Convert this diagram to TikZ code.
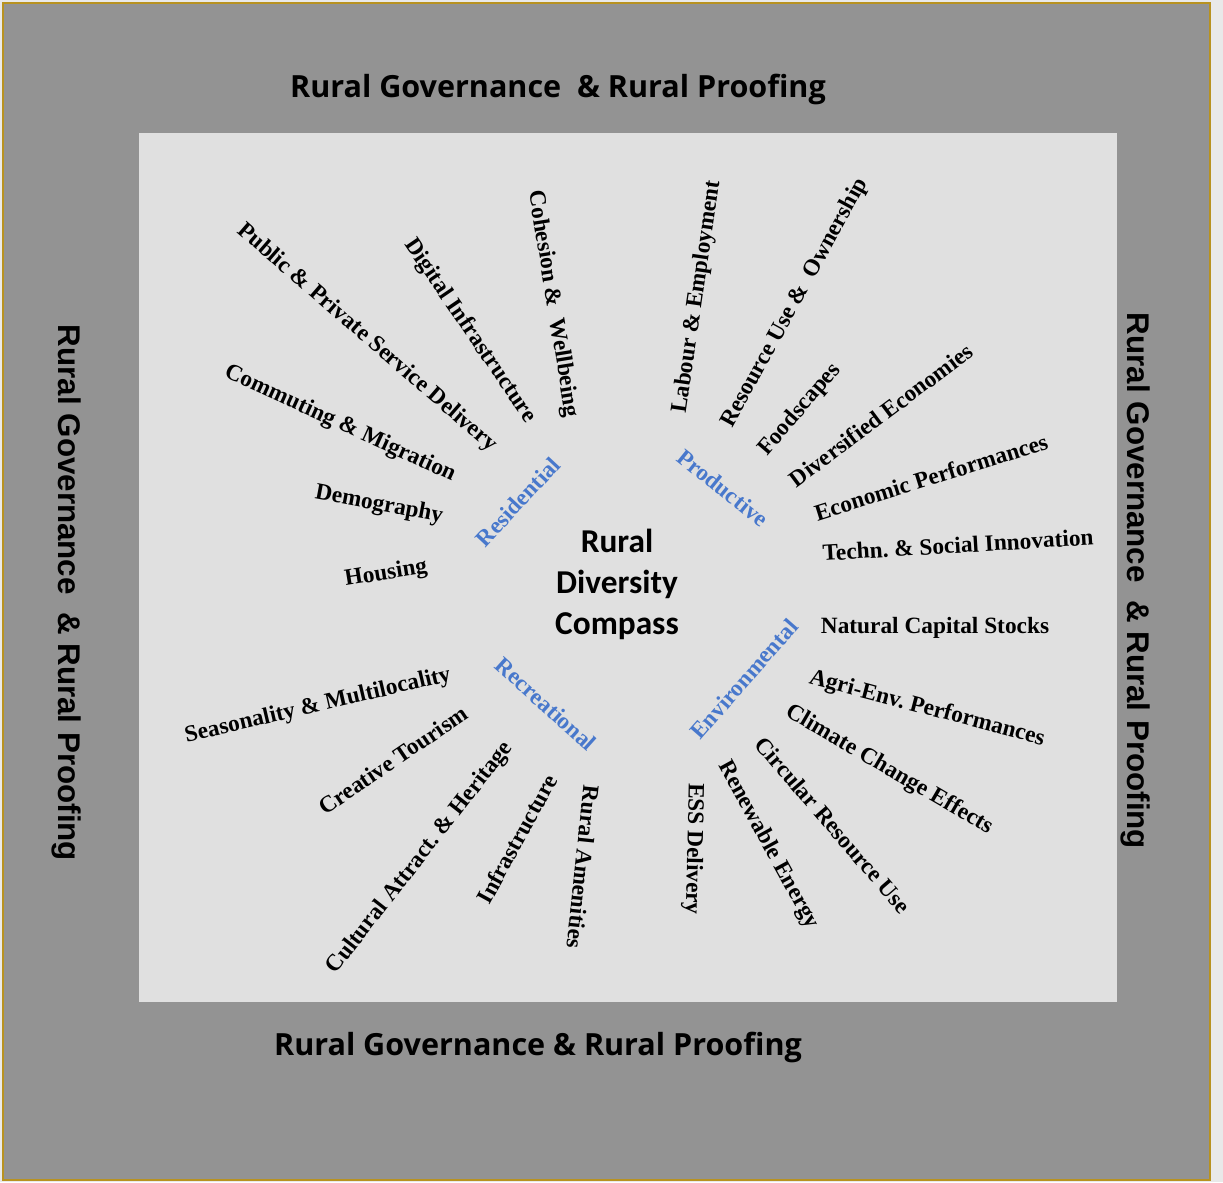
\documentclass[tikz,border=0pt]{standalone}
\usepackage{fontspec}
\setmainfont{Liberation Serif}
\newfontfamily\sidefont{Liberation Sans}
\newfontfamily\bandfont{Open Sans}
\newfontfamily\hubfont{Carlito}
\definecolor{framegold}{RGB}{184,146,32}
\definecolor{bandgray}{RGB}{147,147,147}
\definecolor{panelgray}{RGB}{224,224,224}
\definecolor{dimblue}{RGB}{72,120,204}
\frenchspacing

\begin{document}
\begin{tikzpicture}[x=0.75pt,y=-0.75pt,
            item/.style={font=\bfseries\fontsize{17.5}{20}\selectfont,inner sep=0pt},
            dim/.style={item,text=dimblue},
            side/.style={font=\sidefont\bfseries\fontsize{23.5}{27}\selectfont,inner sep=0pt,anchor=base,rotate=-90},
            band/.style={font=\bandfont\bfseries\fontsize{22.9}{27}\selectfont,inner sep=0pt,anchor=base}]
            \useasboundingbox (0,0) rectangle (1223,1182);
            \fill[panelgray!70!white] (0,0) rectangle (1223,1182);
            \filldraw[fill=bandgray,draw=framegold,line width=1.5pt] (3,3) rectangle (1210,1180);
            \fill[panelgray] (139,133) rectangle (1117,1002);
            \node[band] (govtop) at (558,97) {Rural Governance\ \ \& Rural Proofing};
            \node[band] (govbottom) at (538,1055) {Rural Governance \& Rural Proofing};
            \node[side] (govleft) at (58,593) {Rural Governance\ \ \& Rural Proofing};
            \node[side] (govright) at (1127,581) {Rural Governance\ \ \& Rural Proofing};
            \node[font=\hubfont\bfseries\fontsize{25}{30.75}\selectfont,align=center,inner sep=0pt] (hub) at (617,584) {Rural\\Diversity\\Compass};
            \node[item,rotate=-80.8] (cohesion) at (553,304) {Cohesion \&\ \ Wellbeing};
            \node[item,rotate=-55.7] (digital) at (470,331) {Digital Infrastructure};
            \node[item,rotate=-40.9] (services) at (367,338) {Public \& Private Service Delivery};
            \node[item,rotate=-24.6] (commuting) at (340,424) {Commuting \& Migration};
            \node[item,rotate=-10.6] (demography) at (379,505) {Demography};
            \node[item,rotate=9] (housing) at (386,574) {Housing};
            \node[dim,rotate=47] (residential) at (518,502) {Residential};
            \node[item,rotate=81.7] (labour) at (697,297) {Labour \& Employment};
            \node[item,rotate=61.2] (resource) at (795,303) {Resource Use \&\ \ Ownership};
            \node[item,rotate=49.3] (foodscapes) at (800,410) {Foodscapes};
            \node[item,rotate=36.8] (diversified) at (881,415) {Diversified Economies};
            \node[item,rotate=17.4] (economic) at (931,477) {Economic Performances};
            \node[item,rotate=3.4] (innovation) at (958,545) {Techn. \& Social Innovation};
            \node[dim,rotate=-38.8] (productive) at (723,488) {Productive};
            \node[item,rotate=13.1] (seasonality) at (318,706) {Seasonality \& Multilocality};
            \node[item,rotate=34.2] (creative) at (393,760) {Creative Tourism};
            \node[item,rotate=52] (cultural) at (420,858) {Cultural Attract. \& Heritage};
            \node[item,rotate=61.3] (infra) at (517,839) {Infrastructure};
            \node[item,rotate=-96] (amenities) at (583,867) {Rural Amenities};
            \node[dim,rotate=-41.9] (recreational) at (546,704) {Recreational};
            \node[item] (natural) at (935,628) {Natural Capital Stocks};
            \node[item,rotate=-14.8] (agrienv) at (927,709) {Agri-Env. Performances};
            \node[item,rotate=-30.3] (climate) at (889,770) {Climate Change Effects};
            \node[item,rotate=-49.2] (circular) at (833,825) {Circular Resource Use};
            \node[item,rotate=-61.2] (renewable) at (768,845) {Renewable Energy};
            \node[item,rotate=-91.3] (ess) at (693,849) {ESS Delivery};
            \node[dim,rotate=48.9] (environmental) at (744,679) {Environmental};
        \end{tikzpicture}
\end{document}
